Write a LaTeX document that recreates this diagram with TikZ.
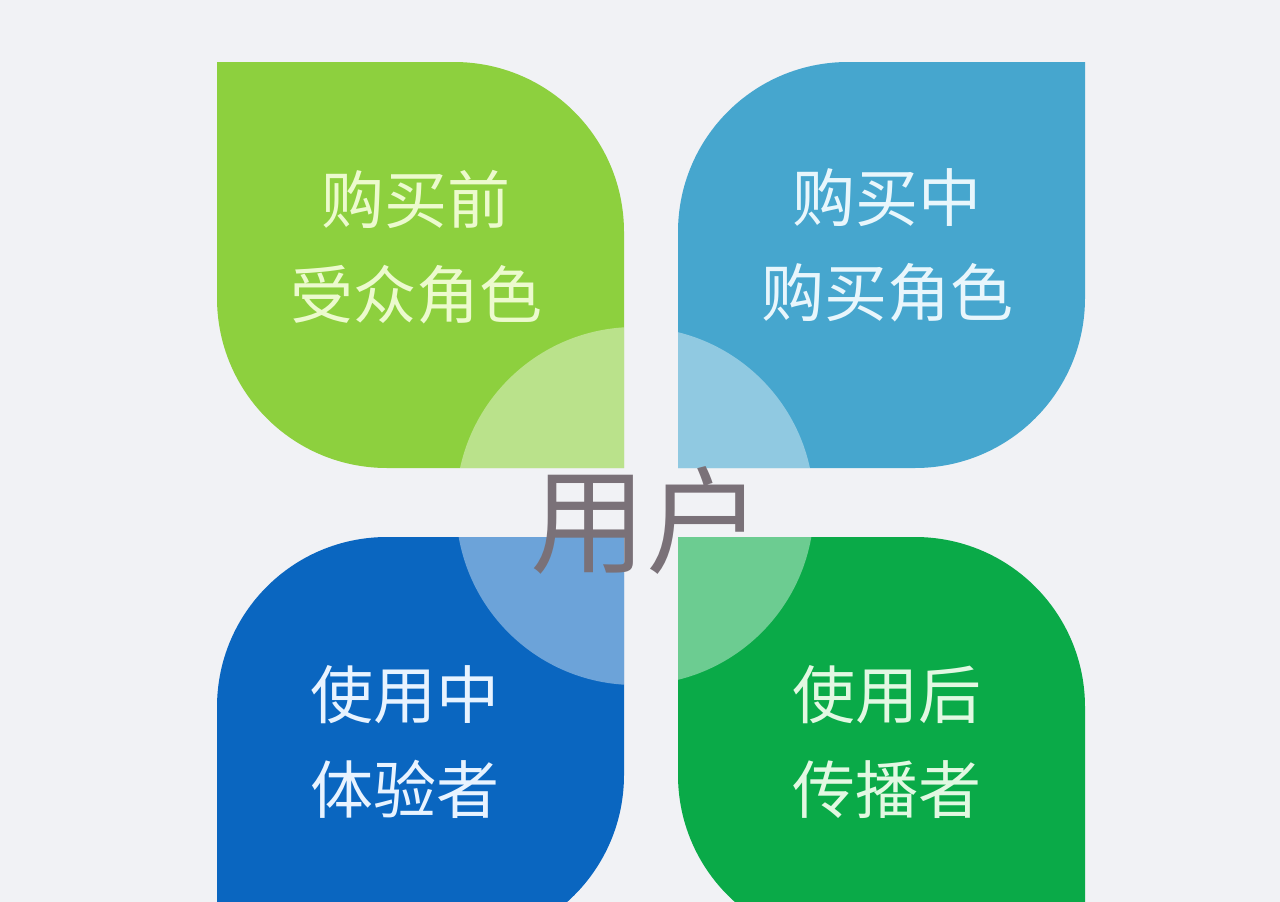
\documentclass[tikz,border=0pt]{standalone}
\usepackage{fontspec}
\newfontfamily\cjk{Noto Sans CJK SC}
\definecolor{bgc}{RGB}{241,242,245}
\definecolor{leafA}{RGB}{141,208,62}
\definecolor{leafB}{RGB}{70,166,206}
\definecolor{leafC}{RGB}{10,102,192}
\definecolor{leafD}{RGB}{10,170,72}
\definecolor{txtA}{RGB}{236,250,206}
\definecolor{txtB}{RGB}{232,246,252}
\definecolor{txtC}{RGB}{232,243,255}
\definecolor{txtD}{RGB}{226,248,226}
\definecolor{centertxt}{RGB}{122,113,120}
\tikzset{
  leaftext/.style={inner sep=0pt, align=center, font=\cjk\fontsize{63pt}{95pt}\selectfont},
  hub/.style={fill=white, fill opacity=0.4}
}
\def\leafApath{(217,62) -- (454,62) .. controls (548,62) and (624,138) .. (624,232) -- (624,468) -- (387,468) .. controls (293,468) and (217,392) .. (217,298) -- cycle}
\def\leafBpath{(1085,62) -- (1085,298) .. controls (1085,392) and (1009,468) .. (915,468) -- (678,468) -- (678,232) .. controls (678,138) and (754,62) .. (848,62) -- cycle}
\def\leafCpath{(624,537) -- (624,775) .. controls (624,869) and (548,945) .. (454,945) -- (217,945) -- (217,707) .. controls (217,613) and (293,537) .. (387,537) -- cycle}
\def\leafDpath{(678,537) -- (915,537) .. controls (1009,537) and (1085,613) .. (1085,707) -- (1085,945) -- (848,945) .. controls (754,945) and (678,869) .. (678,775) -- cycle}
\begin{document}
\begin{tikzpicture}[x=1pt,y=-1pt]
\useasboundingbox (0,0) rectangle (1280,902);
\fill[bgc] (0,0) rectangle (1280,902);
\begin{scope}
\clip (0,0) rectangle (1280,902);
\fill[leafA] \leafApath;
\fill[leafB] \leafBpath;
\fill[leafC] \leafCpath;
\fill[leafD] \leafDpath;
\begin{scope}
\clip \leafApath \leafBpath \leafCpath \leafDpath;
\fill[hub] (635,506) circle[radius=179];
\end{scope}
\end{scope}
\node[leaftext, text=txtA] (ta) at (416,247) {购买前\\受众角色};
\node[leaftext, text=txtB] (tb) at (887,245) {购买中\\购买角色};
\node[leaftext, text=txtC] (tc) at (405,742) {使用中\\体验者};
\node[leaftext, text=txtD] (td) at (887,742) {使用后\\传播者};
\node[inner sep=0pt, text=centertxt, font=\cjk\fontsize{116pt}{130pt}\selectfont] (user) at (646,520) {用户};
\end{tikzpicture}
\end{document}
